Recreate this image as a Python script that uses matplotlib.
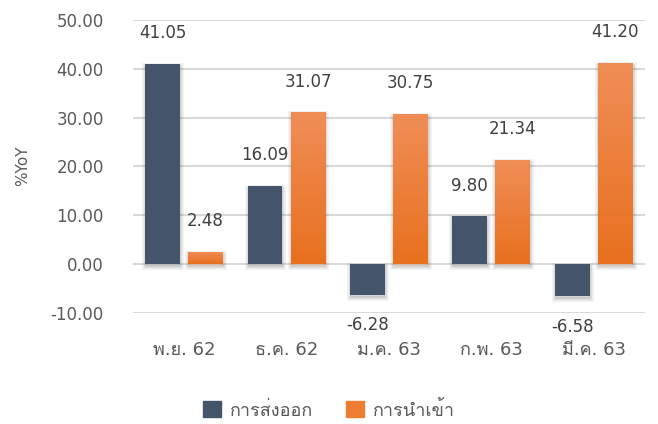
import matplotlib
matplotlib.use('Agg')
import matplotlib.pyplot as plt
import matplotlib.patheffects as pe
import numpy as np
from matplotlib import font_manager
from matplotlib.ft2font import FT2Font
from matplotlib.patches import Patch

months = ['พ.ย. 62', 'ธ.ค. 62', 'ม.ค. 63', 'ก.พ. 63', 'มี.ค. 63']
exports = [41.05, 16.09, -6.28, 9.80, -6.58]
imports = [2.48, 31.07, 30.75, 21.34, 41.20]
series_names = ['การส่งออก', 'การนำเข้า']
yticks = [-10, 0, 10, 20, 30, 40, 50]


def find_thai_font():
    # look for any installed font that has Thai glyphs
    for f in font_manager.fontManager.ttflist:
        try:
            if 0x0E01 in FT2Font(f.fname).get_charmap():
                return f.name
        except Exception:
            pass
    return None


thai = find_thai_font()
families = ['DejaVu Sans'] + ([thai] if thai else [])
plt.rcParams['font.family'] = families

dark = '#44546A'
orange_top = '#F08E57'
orange_bot = '#E8701E'
text_col = '#404040'
tick_col = '#595959'

fig = plt.figure(figsize=(6.58, 4.24), dpi=100)
ax = fig.add_axes([0.202, 0.262, 0.778, 0.691])

x = np.arange(len(months))
w = 0.34
off = 0.21

shadow = [pe.Stroke(linewidth=5, foreground='black', alpha=0.05, offset=(0, -1.5)),
          pe.Stroke(linewidth=2.5, foreground='black', alpha=0.09, offset=(0, -1.5)),
          pe.Normal()]

b1 = ax.bar(x - off, exports, w, color=dark, zorder=3, linewidth=0)
b2 = ax.bar(x + off, imports, w, color=orange_bot, zorder=3, linewidth=0)
for b in list(b1) + list(b2):
    b.set_path_effects(shadow)

# vertical gradient on the orange bars (light at top, darker at bottom)
grad = np.linspace(0, 1, 256).reshape(-1, 1)
cmap = matplotlib.colors.LinearSegmentedColormap.from_list('og', [orange_top, orange_bot])
for b in b2:
    x0, y0 = b.get_x(), b.get_y()
    bw, bh = b.get_width(), b.get_height()
    im = ax.imshow(grad, cmap=cmap, aspect='auto', zorder=4,
                   extent=[x0, x0 + bw, y0, y0 + bh], origin='upper')
    im.set_clip_path(b)

# data labels
for bars, vals in ((b1, exports), (b2, imports)):
    for b, v in zip(bars, vals):
        cx = b.get_x() + b.get_width() / 2
        dy = 22 if v >= 0 else -22
        ax.annotate(f'{v:.2f}', (cx, v), xytext=(0, dy), textcoords='offset points',
                    ha='center', va='center', fontsize=12, color=text_col, zorder=6)

ax.set_xlim(-0.5, len(months) - 0.5)
ax.set_ylim(-10, 50)
ax.set_yticks(yticks)
ax.set_yticklabels([f'{t:.2f}' for t in yticks])
ax.set_xticks(x)
ax.set_xticklabels(months)
ax.tick_params(axis='both', length=0, labelsize=12, labelcolor=tick_col)
ax.tick_params(axis='x', labelsize=13, pad=20)
ax.tick_params(axis='y', pad=21)
ax.grid(axis='y', color='#D9D9D9', linewidth=1.5, zorder=0)
for s in ax.spines.values():
    s.set_visible(False)

fig.text(0.034, 0.61, '%YoY', rotation=90, ha='center', va='center',
         fontsize=11, color=tick_col)

handles = [Patch(color=dark), Patch(color='#ED7D31')]
fig.legend(handles, series_names, loc='center', bbox_to_anchor=(0.5, 0.033),
           ncol=2, frameon=False, fontsize=13, labelcolor=tick_col,
           handlelength=1.0, handleheight=1.0, handletextpad=0.5, columnspacing=1.8)

fig.savefig('out.png', dpi=100)
